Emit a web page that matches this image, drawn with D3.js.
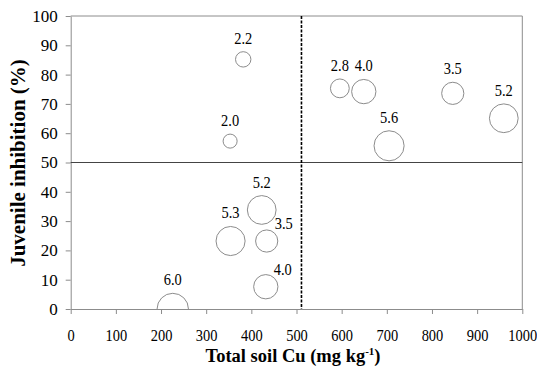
<!DOCTYPE html>
<html>
	<head>
		<meta charset="utf-8">
		<title>Juvenile inhibition vs total soil Cu</title>
		<style>
			body { margin: 0; background: #fff; }
			text { font-family: "Liberation Serif", "Times New Roman", serif; fill: #000; }
		</style>
	</head>
	<body>
		<script src="https://d3js.org/d3.v7.min.js" charset="utf-8"></script>
		<script>
		// total soil Cu (mg/kg), juvenile inhibition (%), bubble label
		var soilCu    = [382, 353, 596, 649, 846, 959, 705, 354, 423, 434, 432, 226];
		var inhibit   = [85.2, 57.3, 75.3, 74.2, 73.6, 65.1, 55.7, 23.2, 33.8, 23.2, 7.6, 0];
		var bubbleVal = [2.2, 2.0, 2.8, 4.0, 3.5, 5.2, 5.6, 5.3, 5.2, 3.5, 4.0, 6.0];
		var labelSide = ["top", "top", "top", "top", "top", "top", "top", "top", "top", "right", "right", "top"];
		var xTicks = [0, 100, 200, 300, 400, 500, 600, 700, 800, 900, 1000];
		var yTicks = [0, 10, 20, 30, 40, 50, 60, 70, 80, 90, 100];
		var cuThreshold = 511;
		var inhibThreshold = 50;

		var width = 537, height = 369;
		var plotL = 70.7, plotR = 522.3, plotT = 16, plotB = 309;

		var svg = d3.select("body").append("svg")
					.attr("width", width)
					.attr("height", height);

		var x = d3.scaleLinear().domain([0, 1000]).range([plotL, plotR]);
		var y = d3.scaleLinear().domain([0, 100]).range([plotB, plotT]);
		// bubble area grows linearly with value
		var area = d3.scaleLinear().domain([1, 6]).range([0, 246]);

		// plot frame (top + right)
		svg.append("path")
			.attr("d", "M" + plotL + "," + plotT + "H" + plotR + "V" + plotB)
			.attr("fill", "none")
			.attr("stroke", "#8c8c8c");

		var xAxis = svg.append("g")
			.attr("transform", "translate(0," + plotB + ")")
			.call(d3.axisBottom(x).tickValues(xTicks).tickSize(5).tickSizeOuter(0).tickFormat(d3.format("d")));
		xAxis.selectAll("text")
			.attr("y", 20)
			.attr("dy", "0.71em")
			.attr("transform", "scale(0.85,1)")
			.style("font-size", "17px");

		var yAxis = svg.append("g")
			.attr("transform", "translate(" + plotL + ",0)")
			.call(d3.axisLeft(y).tickValues(yTicks).tickSize(5).tickSizeOuter(0).tickFormat(d3.format("d")));
		yAxis.selectAll("text")
			.attr("x", -13)
			.style("font-size", "17px");

		svg.selectAll(".domain, .tick line").attr("stroke", "#8c8c8c");
		svg.selectAll(".tick text").attr("fill", "#000");

		// reference lines
		svg.append("line")
			.attr("x1", plotL).attr("x2", plotR)
			.attr("y1", y(inhibThreshold)).attr("y2", y(inhibThreshold))
			.attr("stroke", "#444")
			.attr("stroke-width", 1);

		svg.append("line")
			.attr("x1", x(cuThreshold)).attr("x2", x(cuThreshold))
			.attr("y1", plotT).attr("y2", plotB)
			.attr("stroke", "#000")
			.attr("stroke-width", 1.6)
			.attr("stroke-dasharray", "3,1.5");

		svg.append("clipPath").attr("id", "plotclip")
			.append("rect")
			.attr("x", plotL).attr("y", plotT)
			.attr("width", plotR - plotL).attr("height", plotB - plotT);

		var points = soilCu.map(function (d, i) {
			return { cu: d, inh: inhibit[i], v: bubbleVal[i], side: labelSide[i] };
		});

		svg.append("g").attr("clip-path", "url(#plotclip)")
			.selectAll("circle")
			.data(points)
			.enter()
			.append("circle")
				.attr("cx", function (d) { return x(d.cu); })
				.attr("cy", function (d) { return y(d.inh); })
				.attr("r", function (d) { return Math.sqrt(area(d.v)); })
				.attr("fill", "none")
				.attr("stroke", "#8c8c8c")
				.attr("stroke-width", 1);

		svg.append("g")
			.selectAll("text")
			.data(points)
			.enter()
			.append("text")
				.attr("transform", function (d) {
					var r = Math.sqrt(area(d.v));
					if (d.side == "right") {
						return "translate(" + (x(d.cu) + 17) + "," + (y(d.inh) - 12) + ") scale(0.85,1)";
					}
					return "translate(" + x(d.cu) + "," + (y(d.inh) - r - 8) + ") scale(0.85,1)";
				})
				.attr("text-anchor", "middle")
				.style("font-size", "17px")
				.text(function (d) { return d3.format(".1f")(d.v); });

		// axis titles
		var xt = svg.append("text")
			.attr("x", 293)
			.attr("y", 362)
			.attr("text-anchor", "middle")
			.style("font-size", "18.5px")
			.style("font-weight", "bold");
		xt.append("tspan").text("Total soil Cu (mg kg");
		xt.append("tspan").attr("dy", -7).style("font-size", "11px").text("-1");
		xt.append("tspan").attr("dy", 7).text(")");

		svg.append("text")
			.attr("transform", "translate(18," + 163 + ") rotate(-90)")
			.attr("text-anchor", "middle")
			.attr("dy", "0.35em")
			.style("font-size", "21px")
			.style("font-weight", "bold")
			.text("Juvenile inhibition (%)");
		</script>
	</body>
</html>
